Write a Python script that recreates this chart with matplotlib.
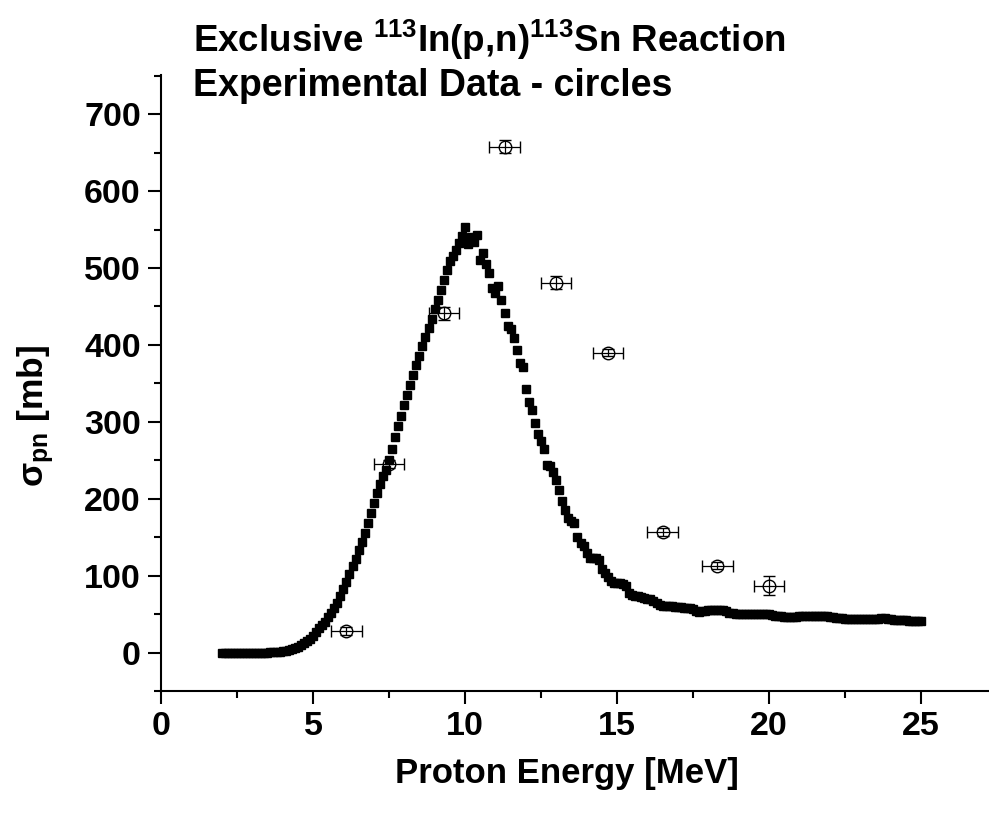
import numpy as np
import matplotlib
matplotlib.use("Agg")
import matplotlib.pyplot as plt

plt.rcParams['font.family'] = ['Liberation Sans', 'DejaVu Sans']
plt.rcParams['font.weight'] = 'bold'
plt.rcParams['mathtext.fontset'] = 'custom'
plt.rcParams['mathtext.rm'] = 'Liberation Sans:bold'
plt.rcParams['mathtext.bf'] = 'Liberation Sans:bold'
plt.rcParams['mathtext.it'] = 'Liberation Sans'

# Calculated cross section, 0.1 MeV grid from 2.0 to 25.0 MeV
energia_calc = np.round(np.arange(2.0, 25.05, 0.1), 1)
sigma_calc = [
    0, 0, 0, 0, 0, 0, 0, 0, 0, 0,                       # 2.0 - 2.9
    0, 0, 0, 0, 0, 0, 0.3, 0.5, 0.8, 1.2,               # 3.0 - 3.9
    1.7, 2.4, 3.2, 4.3, 5.6, 7.3, 9.3, 11.8, 14.7, 18,  # 4.0 - 4.9
    22, 27, 32, 36, 40, 46, 52, 58, 65, 73,             # 5.0 - 5.9
    82, 92, 102, 112, 122, 133, 144, 156, 169, 182,     # 6.0 - 6.9
    195, 207, 219, 229, 238, 251, 265, 280, 294, 308,   # 7.0 - 7.9
    322, 335, 348, 361, 374, 386, 398, 410, 422, 434,   # 8.0 - 8.9
    447, 459, 472, 485, 497, 509, 516, 523, 532, 542,   # 9.0 - 9.9
    554, 531, 540, 534, 543, 511, 520, 505, 494, 474,   # 10.0 - 10.9
    468, 476, 459, 441, 424, 421, 409, 394, 377, 371,   # 11.0 - 11.9
    343, 326, 315, 298, 284, 275, 265, 244, 242, 235,   # 12.0 - 12.9
    224, 211, 197, 186, 175, 171, 168, 150, 142, 138,   # 13.0 - 13.9
    130, 123, 123, 123, 120, 109, 103, 98, 93, 91,      # 14.0 - 14.9
    90, 90, 89, 86, 77, 75, 74, 73, 72, 71,             # 15.0 - 15.9
    70, 69, 67, 64, 62, 61, 61, 60, 60, 59,             # 16.0 - 16.9
    59, 59, 58, 58, 58, 57, 54, 53, 54, 54,             # 17.0 - 17.9
    55, 55, 55, 55, 55, 55, 54, 52, 51, 50,             # 18.0 - 18.9
    50, 50, 50, 50, 50, 50, 50, 50, 50, 50,             # 19.0 - 19.9
    50, 49, 48, 47, 47, 46, 46, 46, 46, 46,             # 20.0 - 20.9
    47, 47, 47, 47, 48, 48, 48, 48, 48, 47,             # 21.0 - 21.9
    46, 46, 45, 45, 45, 44, 44, 44, 44, 43,             # 22.0 - 22.9
    43, 43, 43, 43, 44, 44, 44, 45, 45, 44,             # 23.0 - 23.9
    43, 42, 42, 42, 42, 42, 41, 41, 41, 41,             # 24.0 - 24.9
    41,                                                 # 25.0
]

# Dados experimentais
energia_exp = [6.1, 7.5, 9.3, 11.3, 13.0, 14.7, 16.5, 18.3, 20.0]
sigma_exp = [28, 245, 441, 658, 481, 390, 157, 113, 87]
erro_energia = [0.5, 0.5, 0.5, 0.5, 0.5, 0.5, 0.5, 0.5, 0.5]
erro_sigma = [5, 5, 8, 8, 8, 5, 5, 5, 12]

fig = plt.figure(figsize=(9.89, 8.14), dpi=100)
ax = fig.add_axes([161 / 989, 123 / 814, 828 / 989, 616 / 814])

ax.plot(energia_calc, sigma_calc, 's', color='black', markersize=6, linestyle='none')
ax.errorbar(energia_exp, sigma_exp, xerr=erro_energia, yerr=erro_sigma, fmt='o',
            color='black', mfc='none', mec='black', markersize=9, mew=1.0,
            elinewidth=0.9, capsize=4.5, capthick=0.9, zorder=3)

ax.set_xlim(0, 828 / 30.4)
ax.set_ylim(-50, 751)
ax.set_xticks([0, 5, 10, 15, 20, 25])
ax.set_xticks([2.5, 7.5, 12.5, 17.5, 22.5], minor=True)
ax.set_yticks([0, 100, 200, 300, 400, 500, 600, 700])
ax.set_yticks([-50, 50, 150, 250, 350, 450, 550, 650, 750], minor=True)

for lado in ['top', 'right']:
    ax.spines[lado].set_visible(False)
for lado in ['left', 'bottom']:
    ax.spines[lado].set_linewidth(1.5)

ax.tick_params(which='major', direction='out', length=9.5, width=1.5, labelsize=24.5, pad=5)
ax.tick_params(which='minor', direction='out', length=5, width=1.5)
for lbl in ax.get_xticklabels() + ax.get_yticklabels():
    lbl.set_fontweight('bold')

fig.text(567 / 989, 1 - 774 / 814, 'Proton Energy [MeV]', ha='center', va='center',
         fontsize=25, fontweight='bold')
fig.text(36 / 989, 1 - 416 / 814, r'$\sigma_{\mathbf{pn}}$ [mb]', ha='center', va='center',
         rotation=90, fontsize=25.5, fontweight='bold')

fig.text(193 / 989, 1 - 52 / 814, r'Exclusive $^{113}$In(p,n)$^{113}$Sn Reaction',
         ha='left', va='baseline', fontsize=26.5, fontweight='bold')
fig.text(193 / 989, 1 - 96 / 814, 'Experimental Data - circles',
         ha='left', va='baseline', fontsize=27, fontweight='bold')

fig.savefig('out.png', dpi=100)
